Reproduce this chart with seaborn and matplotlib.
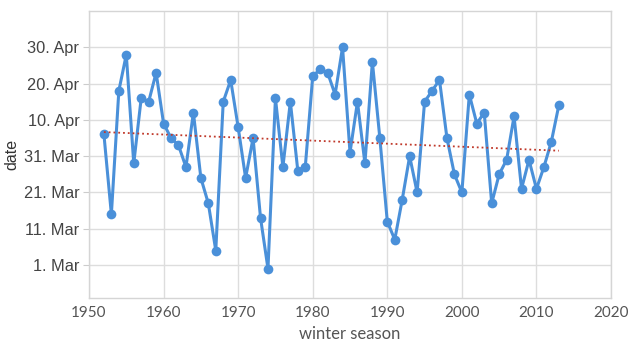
import pandas as pd
import numpy as np
import matplotlib
matplotlib.use("Agg")
import matplotlib.pyplot as plt
import matplotlib.dates as mdates
import seaborn as sns

sns.set_style("whitegrid")
plt.rcParams['font.family'] = ['Liberation Sans', 'DejaVu Sans']

# winter seasons and the date (month-day)
seasons = list(range(1952, 2014))
dates = [
    "04-06", "03-15", "04-18", "04-28", "03-29", "04-16", "04-15", "04-23",
    "04-09", "04-05", "04-03", "03-28", "04-12", "03-25", "03-18", "03-05",
    "04-15", "04-21", "04-08", "03-25", "04-05", "03-14", "02-28", "04-16",
    "03-28", "04-15", "03-27", "03-28", "04-22", "04-24", "04-23", "04-17",
    "04-30", "04-01", "04-15", "03-29", "04-26", "04-05", "03-13", "03-08",
    "03-19", "03-31", "03-21", "04-15", "04-18", "04-21", "04-05", "03-26",
    "03-21", "04-17", "04-09", "04-12", "03-18", "03-26", "03-30", "04-11",
    "03-22", "03-30", "03-22", "03-28", "04-04", "04-14",
]
tick_labels = ["1. Mar", "11. Mar", "21. Mar", "31. Mar", "10. Apr", "20. Apr", "30. Apr"]

df = pd.DataFrame({"season": seasons,
                   "date": pd.to_datetime(["2001-" + d for d in dates])})
df["num"] = mdates.date2num(df["date"])

# linear trend
coef = np.polyfit(df["season"], df["num"], 1)
trend = np.polyval(coef, df["season"])

fig = plt.figure(figsize=(6.29, 3.45), dpi=100)
ax = fig.add_axes([0.1415, 0.136, 0.8299, 0.832])

sns.lineplot(x="season", y="num", data=df, ax=ax, color="#4a90d9",
             marker="o", markersize=7, markeredgewidth=0, linewidth=2.2)
ax.plot(df["season"], trend, color="#c0392b", linestyle=":", linewidth=1.3)

base = mdates.date2num(pd.Timestamp("2001-03-01"))
ax.set_yticks([base + 10 * i for i in range(len(tick_labels))])
ax.set_yticklabels(tick_labels, fontsize=11.8, color="#444444")
ax.set_ylim(base - 9.1, base + 70)

ax.set_xlim(1950, 2020)
ax.set_xticks(range(1950, 2021, 10))
for lab in ax.get_xticklabels():
    lab.set_family(["Lato", "DejaVu Sans"])
    lab.set_fontsize(11)
    lab.set_color("#555555")

ax.set_xlabel("winter season", fontsize=12, color="#555555", family=["Lato", "DejaVu Sans"])
ax.set_ylabel("date", fontsize=11.5, color="#333333", labelpad=3)

ax.grid(True, color="#dddddd", linewidth=1)
for s in ax.spines.values():
    s.set_color("#d5d5d5")
    s.set_linewidth(1)
ax.tick_params(axis="y", left=True, length=4, color="#cccccc", pad=3)
ax.tick_params(axis="x", length=0, pad=6)

fig.savefig("out.png", dpi=100)
